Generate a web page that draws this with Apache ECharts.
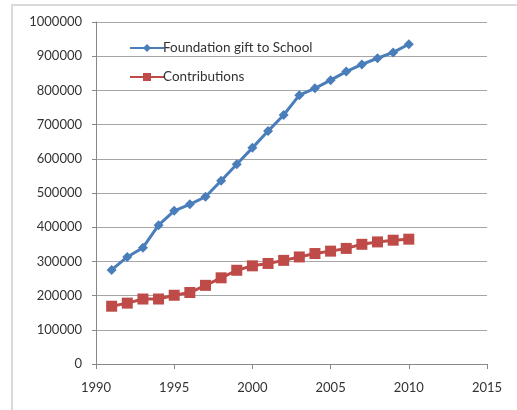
<!DOCTYPE html>
<html>
<head>
<meta charset="utf-8">
<script src="https://cdn.jsdelivr.net/npm/echarts@6/dist/echarts.min.js"></script>
<style>
  html, body { margin: 0; padding: 0; background: #fff; }
  #chart { width: 517px; height: 410px; }
</style>
</head>
<body>
<div id="chart"></div>
<script>
// values
const years = [1991, 1992, 1993, 1994, 1995, 1996, 1997, 1998, 1999, 2000,
               2001, 2002, 2003, 2004, 2005, 2006, 2007, 2008, 2009, 2010];
const foundationGift = [275000, 313000, 340000, 406000, 448000, 467000, 489000, 536000, 584000, 632000,
                        681000, 728000, 786000, 806000, 830000, 855000, 876000, 894000, 911000, 935000];
const contributions = [169000, 178000, 190000, 190000, 201000, 209000, 230000, 252000, 274000, 287000,
                       294000, 303000, 313000, 323000, 330000, 338000, 350000, 357000, 362000, 365000];
const seriesNames = ["Foundation gift to School", "Contributions"];

const font = "Lato, 'Open Sans', sans-serif";
const pair = (ys) => years.map((y, i) => [y, ys[i]]);

const chart = echarts.init(document.getElementById("chart"), null, { renderer: "canvas" });

chart.setOption({
    animation: false,
    backgroundColor: "#fff",
    textStyle: { fontFamily: font },
    graphic: [{
        type: "rect",
        shape: { x: 12, y: 5, width: 520, height: 420 },
        style: { fill: "none", stroke: "#d9d9d9", lineWidth: 2 },
        silent: true,
    }],
    grid: { left: 96, top: 22, right: 30, bottom: 46 },
    legend: {
        orient: "vertical",
        left: 124,
        top: 36,
        itemWidth: 34,
        itemHeight: 10,
        itemGap: 15,
        textStyle: { fontFamily: font, fontSize: 13.5, color: "#333", padding: [0, 0, 0, -6] },
        data: seriesNames,
    },
    xAxis: {
        type: "value",
        min: 1990,
        max: 2015,
        interval: 5,
        axisLine: { show: true, lineStyle: { color: "#888", width: 1 } },
        axisTick: { show: true, length: 5, lineStyle: { color: "#888" } },
        axisLabel: { fontFamily: font, fontSize: 13, color: "#333", margin: 17, formatter: (v) => String(v) },
        splitLine: { show: false },
    },
    yAxis: {
        type: "value",
        min: 0,
        max: 1000000,
        interval: 100000,
        axisLine: { show: true, lineStyle: { color: "#888", width: 1 } },
        axisTick: { show: true, length: 4, lineStyle: { color: "#888" } },
        axisLabel: { fontFamily: font, fontSize: 13, color: "#333", margin: 14, formatter: (v) => String(v) },
        splitLine: { show: true, lineStyle: { color: "#a6a6a6", width: 1 } },
    },
    series: [
        {
            name: seriesNames[0],
            type: "line",
            data: pair(foundationGift),
            symbol: "diamond",
            symbolSize: 10,
            itemStyle: { color: "#4a7ebb" },
            lineStyle: { color: "#4a7ebb", width: 3 },
        },
        {
            name: seriesNames[1],
            type: "line",
            data: pair(contributions),
            symbol: "rect",
            symbolSize: 11,
            itemStyle: { color: "#be4b48" },
            lineStyle: { color: "#be4b48", width: 3 },
        },
    ],
});
</script>
</body>
</html>
